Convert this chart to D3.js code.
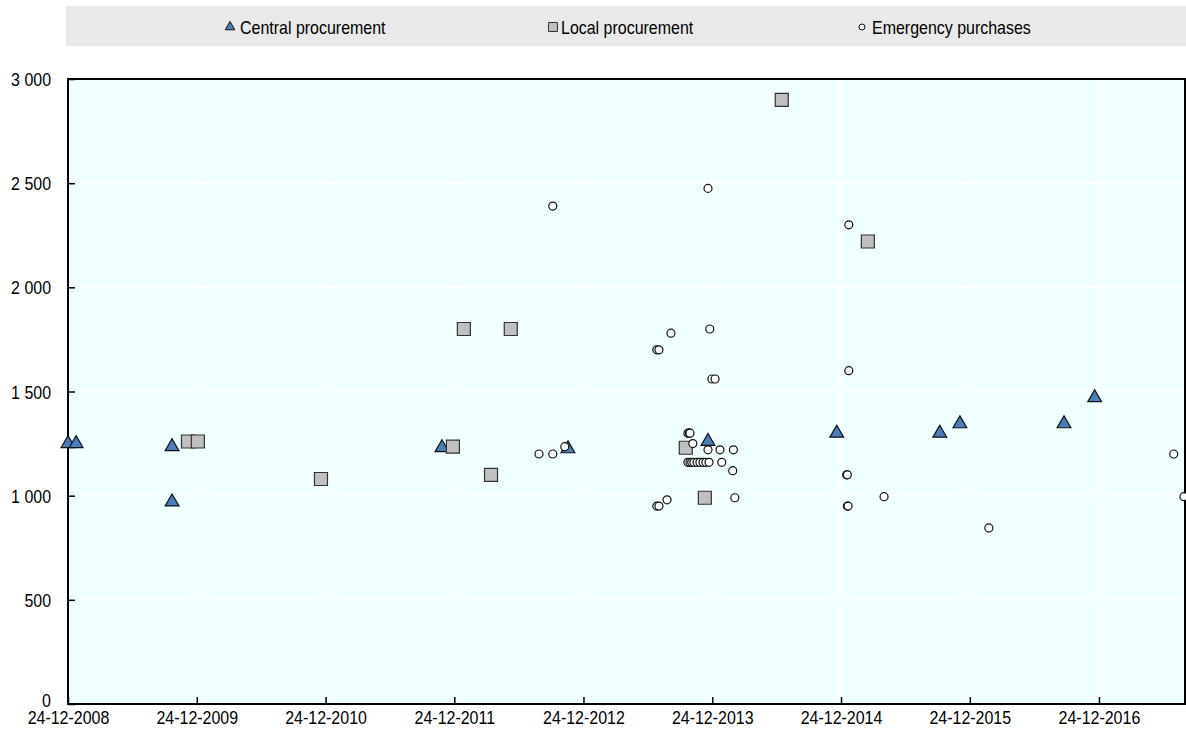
<!DOCTYPE html>
<html>
<head>
<meta charset="utf-8">
<script src="https://cdn.jsdelivr.net/npm/d3@7"></script>
<style>
  body { margin: 0; background: #fff; }
  text { font-family: "Liberation Sans Narrow", "Arial Narrow", "Liberation Sans", Arial, sans-serif; font-size: 19px; fill: #000; }
</style>
</head>
<body>
<svg id="chart"></svg>
<script>
// data
var seriesNames = ["Central procurement", "Local procurement", "Emergency purchases"];

var centralDates = ["2008-12-24", "2009-01-16", "2009-10-15", "2009-10-15", "2011-11-19", "2012-11-10",
  "2013-12-12", "2014-12-12", "2015-09-30", "2015-11-26", "2016-09-16", "2016-12-12"];
var centralValues = [1250, 1250, 1235, 970, 1230, 1225, 1260, 1300, 1300, 1345, 1345, 1470];

var localDates = ["2009-11-29", "2009-12-27", "2010-12-11", "2011-12-20", "2012-01-20", "2012-04-06",
  "2012-06-01", "2013-10-10", "2013-12-03", "2014-07-09", "2015-03-10"];
var localValues = [1260, 1260, 1080, 1235, 1800, 1100, 1800, 1230, 990, 2900, 2220];

var emergencyDates = ["2012-08-20", "2012-09-28", "2012-09-28", "2012-11-01", "2013-07-20", "2013-07-26",
  "2013-07-20", "2013-07-26", "2013-08-18", "2013-08-29", "2013-10-16", "2013-10-20", "2013-10-22",
  "2013-10-30", "2013-10-16", "2013-10-22", "2013-10-27", "2013-11-02", "2013-11-11", "2013-11-19",
  "2013-11-28", "2013-12-06", "2013-12-15", "2014-01-20", "2013-12-12", "2013-12-17", "2013-12-23",
  "2014-01-01", "2013-12-12", "2014-01-15", "2014-02-22", "2014-02-20", "2014-02-26", "2015-01-09",
  "2015-01-11", "2015-01-11", "2015-01-13", "2015-01-15", "2015-01-15", "2015-04-25", "2016-02-16",
  "2017-07-24", "2017-08-22"];
var emergencyValues = [1200, 1200, 2390, 1235, 950, 950, 1700, 1700, 980, 1780, 1300, 1300, 1300,
  1250, 1160, 1160, 1160, 1160, 1160, 1160, 1160, 1160, 1160, 1160, 2475, 1800, 1560,
  1560, 1220, 1220, 1220, 1120, 990, 1100, 1100, 950, 950, 2300, 1600, 995, 845,
  1200, 995];

var xTickLabels = ["24-12-2008", "24-12-2009", "24-12-2010", "24-12-2011", "24-12-2012",
  "24-12-2013", "24-12-2014", "24-12-2015", "24-12-2016"];
var yTicks = [0, 500, 1000, 1500, 2000, 2500, 3000];

var width = 1186, height = 731;
var margin = { top: 79, right: 1, bottom: 27, left: 68 };

var parseDate = d3.timeParse("%Y-%m-%d");
var parseTick = d3.timeParse("%d-%m-%Y");
var formatTick = d3.timeFormat("%d-%m-%Y");
var locale = d3.formatLocale({ decimal: ".", thousands: " ", grouping: [3], currency: ["", ""] });
var formatY = locale.format(",");

var svg = d3.select("#chart")
  .attr("width", width)
  .attr("height", height);

var x = d3.scaleTime()
  .domain([parseDate("2008-12-24"), parseDate("2017-08-25")])
  .range([margin.left, width - margin.right]);

var y = d3.scaleLinear()
  .domain([0, 3000])
  .range([height - margin.bottom, margin.top]);

// legend band
svg.append("rect")
  .attr("x", 66).attr("y", 6)
  .attr("width", width - 66).attr("height", 40)
  .attr("fill", "#e9e9e9");

// plot background
svg.append("rect")
  .attr("x", margin.left).attr("y", margin.top)
  .attr("width", width - margin.right - margin.left)
  .attr("height", height - margin.bottom - margin.top)
  .attr("fill", "#f0ffff");

var xTicks = xTickLabels.map(parseTick);

// gridlines
svg.append("g")
  .selectAll("line")
  .data(yTicks.slice(1, -1))
  .enter()
  .append("line")
  .attr("x1", margin.left).attr("x2", width - margin.right)
  .attr("y1", function (d) { return y(d); })
  .attr("y2", function (d) { return y(d); })
  .attr("stroke", "#fff").attr("stroke-width", 1.5);

svg.append("g")
  .selectAll("line")
  .data(xTicks.slice(1))
  .enter()
  .append("line")
  .attr("y1", margin.top).attr("y2", height - margin.bottom)
  .attr("x1", function (d) { return x(d); })
  .attr("x2", function (d) { return x(d); })
  .attr("stroke", "#fff").attr("stroke-width", 1.5);

// axes
var xAxis = svg.append("g")
  .attr("transform", "translate(0," + (height - margin.bottom) + ")")
  .call(d3.axisBottom(x).tickValues(xTicks).tickFormat(formatTick).tickSizeInner(-7).tickSizeOuter(0).tickPadding(6));

var yAxis = svg.append("g")
  .attr("transform", "translate(" + margin.left + ",0)")
  .call(d3.axisLeft(y).tickValues(yTicks).tickFormat(formatY).tickSizeInner(-7).tickSizeOuter(0).tickPadding(17));

[xAxis, yAxis].forEach(function (g) {
  g.select(".domain").remove();
  g.selectAll(".tick line").attr("stroke", "#000").attr("stroke-width", 1.5);
  g.attr("font-size", null).attr("font-family", null);
});
xAxis.selectAll(".tick text").attr("dy", "0.95em").attr("y", 2);
yAxis.selectAll(".tick text").attr("dy", "0.35em");
yAxis.selectAll(".tick text").filter(function (d) { return d === 0; }).attr("dy", "0.15em");

// frame
svg.append("rect")
  .attr("x", margin.left).attr("y", margin.top)
  .attr("width", width - margin.right - margin.left)
  .attr("height", height - margin.bottom - margin.top)
  .attr("fill", "none")
  .attr("stroke", "#000").attr("stroke-width", 2);

function pairs(dates, values) {
  return dates.map(function (d, i) { return { date: parseDate(d), value: values[i] }; });
}

var series = [
  { name: seriesNames[0], data: pairs(centralDates, centralValues), symbol: d3.symbolTriangle, size: 82, fill: "#4a7ebb", stroke: "#111" },
  { name: seriesNames[1], data: pairs(localDates, localValues), symbol: d3.symbolSquare, size: 169, fill: "#c0c0c0", stroke: "#333" },
  { name: seriesNames[2], data: pairs(emergencyDates, emergencyValues), symbol: d3.symbolCircle, size: 50, fill: "#fff", stroke: "#111" }
];

series.forEach(function (s) {
  svg.append("g")
    .selectAll("path")
    .data(s.data)
    .enter()
    .append("path")
    .attr("d", d3.symbol().type(s.symbol).size(s.size))
    .attr("transform", function (d) { return "translate(" + x(d.date) + "," + y(d.value) + ")"; })
    .attr("fill", s.fill)
    .attr("stroke", s.stroke)
    .attr("stroke-width", 1.2);
});

// legend
var legendX = [230, 553, 862];
var legendSizes = [40, 80, 28];
var legend = svg.append("g")
  .selectAll("g")
  .data(series)
  .enter()
  .append("g")
  .attr("transform", function (d, i) { return "translate(" + legendX[i] + ",27)"; });

legend.append("path")
  .attr("d", function (d, i) { return d3.symbol().type(d.symbol).size(legendSizes[i])(); })
  .attr("fill", function (d) { return d.fill; })
  .attr("stroke", function (d) { return d.stroke; })
  .attr("stroke-width", 1);

legend.append("text")
  .attr("x", function (d, i) { return i == 1 ? 8 : 10; })
  .attr("dy", "0.35em")
  .text(function (d) { return d.name; });

// no narrow face here, so squeeze the regular one to the narrow width
svg.selectAll("text").each(function () {
  var w = this.getComputedTextLength();
  if (w > 0) {
    d3.select(this).attr("textLength", (w * 0.84).toFixed(1)).attr("lengthAdjust", "spacingAndGlyphs");
  }
});
</script>
</body>
</html>
